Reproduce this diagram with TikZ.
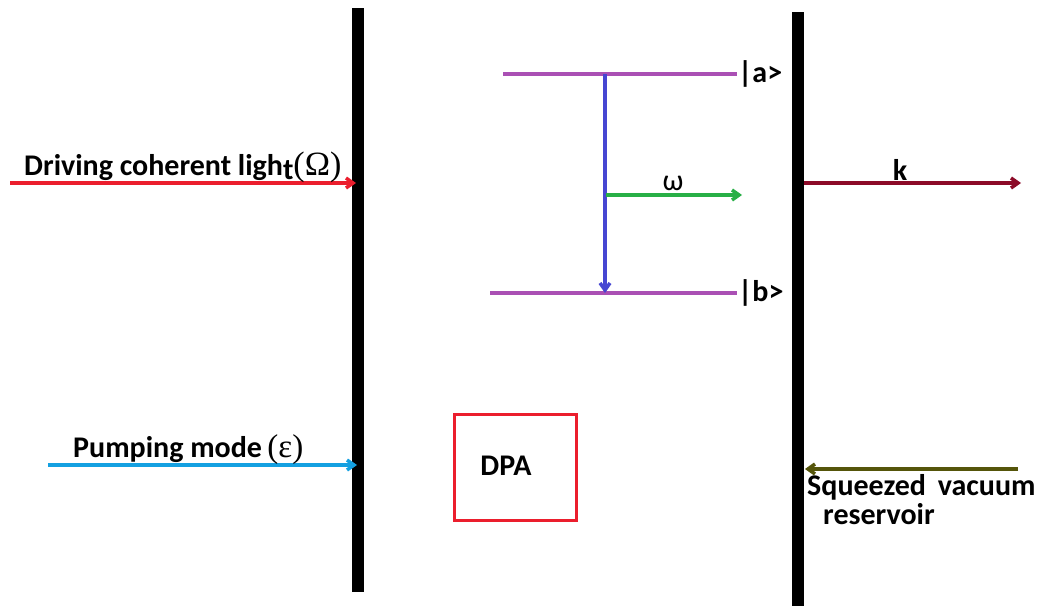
\documentclass[tikz,border=0pt]{standalone}
\usepackage{fontspec}
\setmainfont{Carlito}
\newfontfamily\symfont{Liberation Serif}
\usetikzlibrary{positioning}
\usetikzlibrary{arrows.meta}

\tikzset{
  mirror/.style={line width=12pt, black},
  beam/.style={line width=3.5pt, -{Straight Barb[length=7pt,width=10pt]}},
  level/.style={line width=4pt, color=levelpurple},
  lbl/.style={font=\bfseries\fontsize{30}{29}\selectfont, inner sep=1pt}
}
\definecolor{levelpurple}{RGB}{170,80,180}
\definecolor{drivered}{RGB}{235,30,45}
\definecolor{pumpblue}{RGB}{20,160,225}
\definecolor{decayblue}{RGB}{70,70,210}
\definecolor{photongreen}{RGB}{40,175,70}
\definecolor{cavityred}{RGB}{140,10,40}
\definecolor{squeezeolive}{RGB}{85,85,10}

\begin{document}
\begin{tikzpicture}[x=1pt, y=-1pt]
\useasboundingbox (0,0) rectangle (1040,606);
%%% mirrors %%%

      \coordinate (leftTop) at (358,8);
      \coordinate (leftBot) at (358,592);
      \coordinate (rightTop) at (798,12);
      \coordinate (rightBot) at (798,606);
      \draw[mirror] (leftTop) -- (leftBot);
      \draw[mirror] (rightTop) -- (rightBot);

%%% input beams %%%

      \coordinate (driveStart) at (10,183);
      \coordinate (driveEnd) at (356,183);
      \draw[beam, drivered] (driveStart) -- (driveEnd);
      \node[lbl, anchor=base west] (driveLabel) at (23,175) {Driving coherent ligh\raisebox{-4pt}{t}{\mdseries\symfont\fontsize{34}{34}\selectfont(Ω)}};
      %
      \coordinate (pumpStart) at (48,465);
      \coordinate (pumpEnd) at (357,465);
      \draw[beam, pumpblue] (pumpStart) -- (pumpEnd);
      \node[lbl, anchor=base west] (pumpLabel) at (72,457) {Pumping mode{\mdseries\symfont\fontsize{33}{33}\selectfont\,(ε)}};

%%% DPA %%%

      \node[draw=drivered, line width=3pt, minimum width=122pt, minimum height=106pt] (dpa) at (515,467) {};
      \node[lbl] (dpaLabel) at (506,466) {DPA};

%%% atomic levels %%%

      \coordinate (aLeft) at (503,74);
      \coordinate (aRight) at (737,74);
      \coordinate (bLeft) at (490,293);
      \coordinate (bRight) at (737,293);
      \draw[level] (aLeft) -- (aRight);
      \draw[level] (bLeft) -- (bRight);
      \node[lbl, anchor=west] (aLabel) at (aRight) {|a>};
      \node[lbl, anchor=west] (bLabel) at (bRight) {|b>};
      %
      \coordinate (decayTop) at (605,74);
      \coordinate (decayBot) at (605,293);
      \draw[beam, decayblue] (decayTop) -- (decayBot);
      \coordinate (photonStart) at (606,195);
      \coordinate (photonEnd) at (742,195);
      \draw[beam, photongreen] (photonStart) -- (photonEnd);
      \node[lbl, above=3pt of photonStart, xshift=67pt] (omegaLabel) {\mdseries ω};

%%% output and reservoir %%%

      \coordinate (outStart) at (804,183);
      \coordinate (outEnd) at (1021,183);
      \draw[beam, cavityred] (outStart) -- (outEnd);
      \node[lbl, above=1pt of outStart, xshift=96pt] (kLabel) {k};
      %
      \coordinate (resStart) at (1018,469);
      \coordinate (resEnd) at (805,469);
      \draw[beam, squeezeolive] (resStart) -- (resEnd);
      \node[lbl, anchor=north west, align=left] (resLabel) at (806,473) {Squeezed\, vacuum\\\hspace{16pt}reservoir};

\end{tikzpicture}
\end{document}
